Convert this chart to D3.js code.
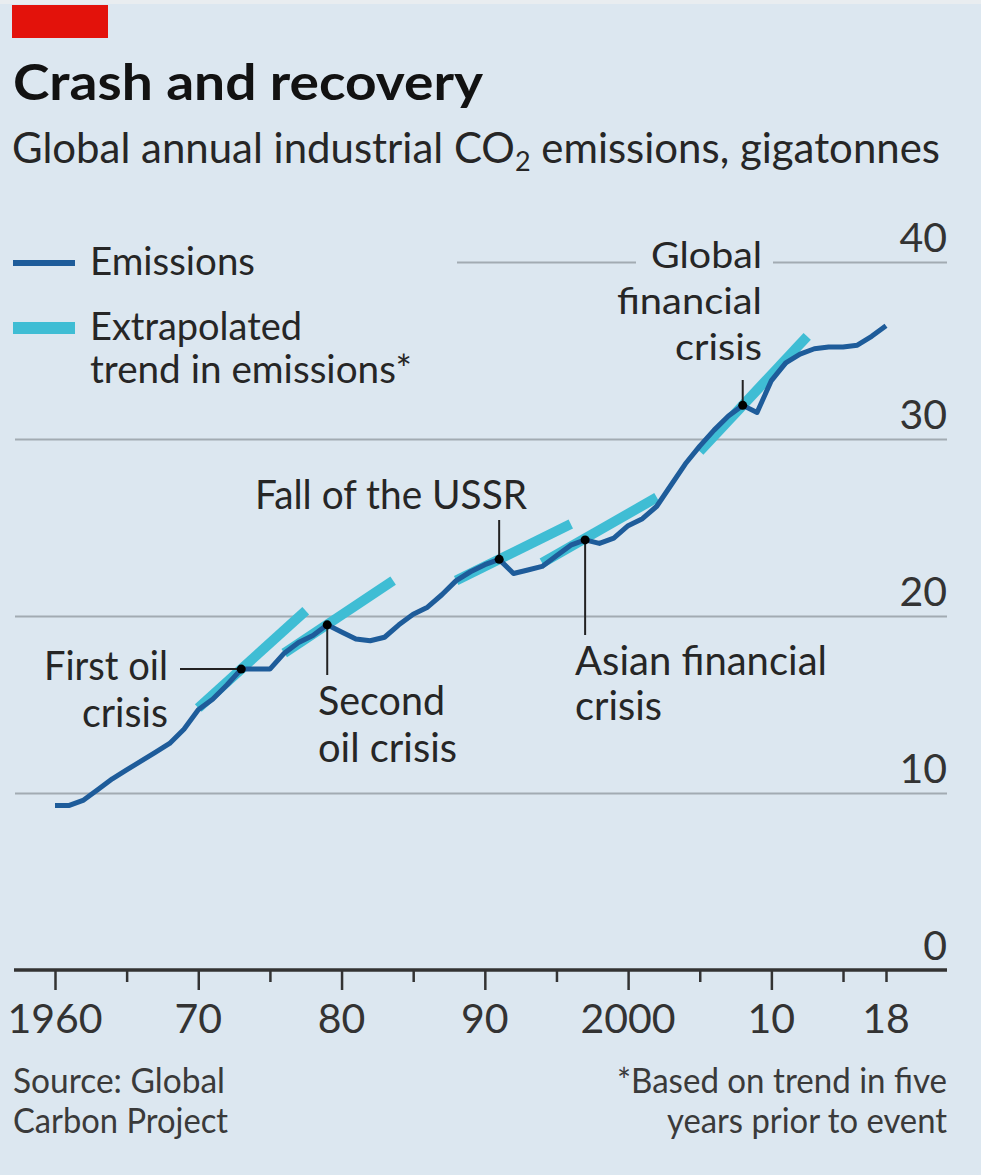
<!DOCTYPE html>
<html>
<head>
<meta charset="utf-8">
<script src="https://cdn.jsdelivr.net/npm/d3@7"></script>
<style>
body{margin:0;background:#dce7f0;}
svg{display:block;font-family:Lato,"Noto Sans",sans-serif;}
</style>
</head>
<body>
<script>
// data
const years = [1960,1961,1962,1963,1964,1965,1966,1967,1968,1969,
               1970,1971,1972,1973,1974,1975,1976,1977,1978,1979,
               1980,1981,1982,1983,1984,1985,1986,1987,1988,1989,
               1990,1991,1992,1993,1994,1995,1996,1997,1998,1999,
               2000,2001,2002,2003,2004,2005,2006,2007,2008,2009,
               2010,2011,2012,2013,2014,2015,2016,2017,2018];
const emissions = [9.3,9.3,9.6,10.2,10.8,11.3,11.8,12.3,12.8,13.6,
                   14.7,15.3,16.1,17.0,17.0,17.0,17.9,18.5,18.9,19.5,
                   19.1,18.7,18.6,18.8,19.5,20.1,20.5,21.2,22.0,22.5,
                   22.9,23.2,22.4,22.6,22.8,23.4,24.0,24.3,24.1,24.4,
                   25.1,25.5,26.2,27.4,28.6,29.6,30.5,31.3,31.9,31.5,
                   33.3,34.3,34.8,35.1,35.2,35.2,35.3,35.8,36.4];

const eventYears = [1973,1979,1991,1997,2008];
const trendStartYears = [1970,1976,1988,1994,2005];
const trendStartValues = [14.8,17.9,22.0,23.0,29.3];
const trendEndYears = [1977.5,1983.6,1996,2002,2012.5];
const trendEndValues = [20.3,22.0,25.2,26.7,35.8];

const yTicks = [0,10,20,30,40];
const majorTicks = [1960,1970,1980,1990,2000,2010];
const minorTicks = [1965,1975,1985,1995,2005,2015,2018];
const labelTicks = [1960,1970,1980,1990,2000,2010,2018];
const xTickLabels = ["1960","70","80","90","2000","10","18"];

const width = 981, height = 1175;
const bg = '#dce7f0';
const dark = '#1e5c9a';
const cyan = '#3fbdd4';
const grid = '#a2abb2';
const ink = '#262626';

let svg = d3.select('body').append('svg')
    .attr('width', width)
    .attr('height', height);

svg.append('rect').attr('width', width).attr('height', height).attr('fill', bg);
svg.append('rect').attr('width', width).attr('height', 4).attr('fill', '#e9edf0');
svg.append('rect').attr('x', 12).attr('y', 5).attr('width', 96).attr('height', 33).attr('fill', '#e3120b');

let x = d3.scaleLinear().domain([1960, 2018]).range([55, 886]);
let y = d3.scaleLinear().domain([0, 40]).range([970, 262]);

function label(x0, y0, str, size, anchor, w) {
    let t = svg.append('text')
        .attr('x', x0)
        .attr('y', y0)
        .attr('font-size', size)
        .attr('text-anchor', anchor || 'start')
        .attr('fill', ink)
        .text(str);
    if (w) t.attr('textLength', w).attr('lengthAdjust', 'spacingAndGlyphs');
    return t;
}

// title
label(13, 100, 'Crash and recovery', 50, 'start', 470)
    .attr('font-weight', 'bold').attr('fill', '#121212');
let sub = svg.append('text')
    .attr('x', 12).attr('y', 163)
    .attr('font-size', 42)
    .attr('fill', ink)
    .attr('textLength', 928)
    .attr('lengthAdjust', 'spacingAndGlyphs');
sub.append('tspan').text('Global annual industrial CO');
sub.append('tspan').attr('font-size', 27).attr('dy', 8).text('2');
sub.append('tspan').attr('dy', -8).text(' emissions, gigatonnes');

// gridlines
svg.append('g')
    .attr('transform', 'translate(15,0)')
    .call(d3.axisLeft(y).tickValues(yTicks.filter(d => d > 0)).tickSize(-932).tickFormat(''))
    .call(g => g.select('.domain').remove())
    .selectAll('line')
    .attr('stroke', grid)
    .attr('stroke-width', 2);

// gaps in the top gridline for legend and label
svg.append('rect').attr('x', 0).attr('y', y(40) - 6).attr('width', 457).attr('height', 12).attr('fill', bg);
svg.append('rect').attr('x', 636).attr('y', y(40) - 6).attr('width', 137).attr('height', 12).attr('fill', bg);

// y labels
svg.selectAll('.ylab')
    .data(yTicks)
    .enter()
    .append('text')
    .attr('class', 'ylab')
    .attr('x', 947)
    .attr('y', d => y(d) - 10)
    .attr('text-anchor', 'end')
    .attr('font-size', 41)
    .attr('fill', '#333')
    .text(d => d);

// x axis
let xg = svg.append('g').attr('transform', 'translate(0,' + y(0) + ')');
xg.append('g')
    .call(d3.axisBottom(x).tickValues(majorTicks).tickSize(20).tickSizeOuter(0).tickFormat(''))
    .call(g => g.select('.domain').remove());
xg.append('g')
    .call(d3.axisBottom(x).tickValues(minorTicks).tickSize(12).tickSizeOuter(0).tickFormat(''))
    .call(g => g.select('.domain').remove());
xg.selectAll('.tick line').attr('stroke', '#333').attr('stroke-width', 2.5);
xg.append('line').attr('x1', 14).attr('x2', 947).attr('stroke', '#333').attr('stroke-width', 3.5);

svg.selectAll('.xlab')
    .data(labelTicks)
    .enter()
    .append('text')
    .attr('class', 'xlab')
    .attr('x', d => x(d))
    .attr('y', 1033)
    .attr('text-anchor', 'middle')
    .attr('font-size', 41)
    .attr('fill', '#333')
    .text((d, i) => xTickLabels[i]);

// trend segments
svg.selectAll('.trend')
    .data(eventYears)
    .enter()
    .append('line')
    .attr('class', 'trend')
    .attr('x1', (d, i) => x(trendStartYears[i]))
    .attr('y1', (d, i) => y(trendStartValues[i]))
    .attr('x2', (d, i) => x(trendEndYears[i]))
    .attr('y2', (d, i) => y(trendEndValues[i]))
    .attr('stroke', cyan)
    .attr('stroke-width', 10);

// emissions line
let line = d3.line()
    .x((d, i) => x(years[i]))
    .y(d => y(d));
svg.append('path')
    .datum(emissions)
    .attr('d', line)
    .attr('fill', 'none')
    .attr('stroke', dark)
    .attr('stroke-width', 5)
    .attr('stroke-linejoin', 'round');

function ev(yr) { return emissions[years.indexOf(yr)]; }

// leaders
let leaders = [
    [180, y(ev(1973)), x(1973), y(ev(1973))],
    [x(1979), y(ev(1979)), x(1979), 675],
    [x(1991), 520, x(1991), y(ev(1991))],
    [x(1997), y(ev(1997)), x(1997), 635],
    [x(2008), 380, x(2008), y(ev(2008))]
];
svg.selectAll('.leader')
    .data(leaders)
    .enter()
    .append('line')
    .attr('x1', d => d[0]).attr('y1', d => d[1])
    .attr('x2', d => d[2]).attr('y2', d => d[3])
    .attr('stroke', '#222')
    .attr('stroke-width', 2);

svg.selectAll('.dot')
    .data(eventYears)
    .enter()
    .append('circle')
    .attr('cx', d => x(d))
    .attr('cy', d => y(ev(d)))
    .attr('r', 4.5)
    .attr('fill', '#000');

// annotations
label(168, 680, 'First oil', 40, 'end', 124);
label(168, 727, 'crisis', 40, 'end', 86);
label(318, 715, 'Second', 40, 'start', 127);
label(318, 762, 'oil crisis', 40, 'start', 139);
label(255, 509, 'Fall of the USSR', 40, 'start', 272);
label(575, 675, 'Asian financial', 40, 'start', 252);
label(575, 720, 'crisis', 40, 'start', 87);
label(762, 268, 'Global', 37.5, 'end', 111);
label(762, 314, 'financial', 37.5, 'end', 145);
label(762, 360, 'crisis', 37.5, 'end', 87);

// legend
svg.append('line').attr('x1', 13).attr('x2', 75).attr('y1', 263).attr('y2', 263)
    .attr('stroke', dark).attr('stroke-width', 6);
svg.append('line').attr('x1', 13).attr('x2', 75).attr('y1', 328).attr('y2', 328)
    .attr('stroke', cyan).attr('stroke-width', 12);
label(90, 275, 'Emissions', 38, 'start', 165);
label(90, 340, 'Extrapolated', 38, 'start', 212);
label(90, 383, 'trend in emissions*', 38, 'start', 322);

// footer
label(13, 1093, 'Source: Global', 35, 'start', 212).attr('fill', '#3a3a3a');
label(13, 1133, 'Carbon Project', 35, 'start', 215).attr('fill', '#3a3a3a');
label(947, 1093, '*Based on trend in five', 35, 'end', 330).attr('fill', '#3a3a3a');
label(947, 1133, 'years prior to event', 35, 'end', 280).attr('fill', '#3a3a3a');
</script>
</body>
</html>
